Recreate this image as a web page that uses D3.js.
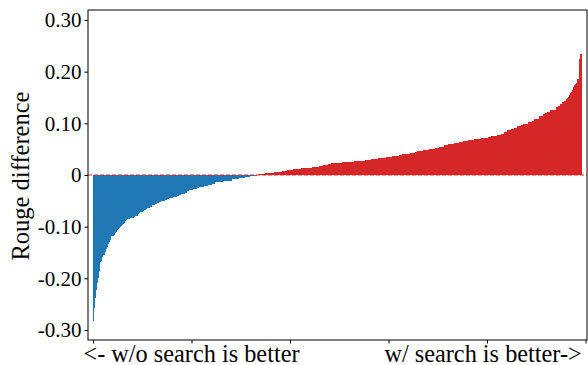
<!DOCTYPE html>
<html>
<head>
<meta charset="utf-8">
<script src="https://cdn.jsdelivr.net/npm/d3@7/dist/d3.min.js"></script>
<style>
html,body{margin:0;padding:0;background:#fff;}
svg{display:block;}
</style>
</head>
<body>
<svg id="chart" width="588" height="365"></svg>
<script>
// Sorted per-sample Rouge differences (w/ search minus w/o search)
const rougeDiff = [
-0.282,-0.258,-0.239,-0.223,-0.210,-0.199,-0.186,-0.169,-0.166,-0.158,
-0.155,-0.154,-0.150,-0.143,-0.139,-0.134,-0.129,-0.126,-0.119,-0.119,
-0.118,-0.116,-0.113,-0.110,-0.106,-0.105,-0.102,-0.100,-0.098,-0.097,
-0.095,-0.092,-0.090,-0.088,-0.086,-0.086,-0.085,-0.084,-0.084,-0.084,-0.083,
-0.081,-0.079,-0.079,-0.079,-0.076,-0.074,-0.074,-0.072,-0.071,-0.071,
-0.070,-0.068,-0.067,-0.065,
-0.063,-0.063,-0.063,-0.061,-0.061,-0.059,-0.059,-0.059,-0.057,-0.057,
-0.054,-0.054,-0.052,-0.052,-0.050,-0.050,-0.050,-0.050,-0.049,-0.049,
-0.047,-0.047,-0.045,-0.045,-0.045,-0.045,-0.043,-0.043,-0.043,-0.043,
-0.041,-0.041,-0.039,-0.039,-0.036,-0.036,-0.036,-0.036,-0.034,-0.034,
-0.031,-0.031,-0.029,-0.029,-0.029,-0.029,-0.027,-0.027,-0.027,-0.027,
-0.026,-0.026,-0.024,-0.024,-0.024,-0.024,-0.024,
-0.021,-0.021,-0.021,-0.021,-0.021,-0.019,-0.019,-0.019,-0.019,
-0.017,-0.017,-0.017,
-0.0135,-0.0135,-0.0135,-0.0135,-0.0135,-0.0135,-0.0135,-0.0135,
-0.0115,-0.0115,-0.0115,-0.0115,-0.0115,-0.0115,-0.0115,-0.0115,-0.0115,
-0.0085,-0.0085,-0.0085,-0.0085,-0.0085,-0.0085,-0.0085,
-0.006,-0.006,-0.006,-0.006,-0.006,-0.006,
-0.004,-0.004,-0.004,-0.004,-0.004,
-0.002,-0.002,-0.002,-0.002,
-0.001,-0.001,-0.001,0,0,0,0.001,0.001,
0.0026,0.0026,0.0026,0.0026,0.0026,
0.0045,0.0045,0.0045,0.0045,0.0045,0.0045,0.0045,0.0045,0.0045,
0.0065,0.0065,0.0065,0.0065,0.0065,0.0065,0.0065,0.0065,
0.0078,0.0078,0.0078,0.0078,0.0078,
0.010,0.010,0.010,0.010,0.010,0.010,
0.012,0.012,0.012,0.012,0.012,0.012,0.012,0.012,
0.0135,0.0135,0.0135,0.0135,0.0135,0.0135,0.0135,0.0135,0.0135,0.0135,0.0135,0.0135,
0.0155,0.0155,0.0155,0.0155,0.0155,0.0155,0.0155,
0.0174,0.0174,0.0174,0.0174,
0.0194,0.0194,0.0194,0.0194,0.0194,
0.021,0.021,0.021,
0.023,0.023,0.023,0.023,0.023,0.023,0.023,0.023,0.023,0.023,0.023,
0.025,0.025,0.025,0.025,0.025,0.025,0.025,0.025,0.025,0.025,0.025,0.025,
0.027,0.027,0.027,0.027,0.027,0.027,0.027,0.027,0.027,0.027,0.027,
0.029,0.029,0.029,0.029,0.029,0.029,
0.031,0.031,0.031,0.031,0.031,0.031,0.031,0.031,
0.033,0.033,0.033,0.033,0.033,0.033,0.033,0.033,
0.035,0.035,0.035,0.035,0.035,0.035,
0.037,0.037,0.037,0.037,0.037,0.037,0.037,
0.039,0.039,0.039,
0.041,0.041,0.041,0.041,0.041,0.041,0.041,0.041,
0.043,0.043,0.043,0.043,0.043,
0.045,0.045,
0.046,0.046,0.046,0.046,0.046,0.046,
0.048,0.048,0.048,0.048,0.048,0.048,
0.050,0.050,0.050,0.050,0.050,0.050,
0.052,0.052,0.052,0.052,
0.054,0.054,0.054,0.054,0.054,0.054,
0.058,0.058,0.058,0.058,
0.060,0.060,0.060,0.060,0.060,0.060,
0.062,0.062,0.062,0.062,0.062,
0.064,0.064,0.064,0.064,
0.066,0.066,0.066,0.066,0.066,
0.068,0.068,0.068,0.068,0.068,0.068,
0.070,0.070,0.070,0.070,0.070,0.070,0.070,
0.072,0.072,0.072,0.072,0.072,0.072,0.072,
0.0735,0.0735,0.0735,
0.0755,0.0755,0.0755,0.0755,0.0755,0.0755,
0.0774,0.0774,0.0774,0.0774,
0.079,0.079,0.079,
0.083,0.083,0.083,0.083,
0.087,0.087,0.087,0.087,
0.089,0.089,0.089,
0.091,0.091,0.091,
0.094,0.094,0.094,0.094,
0.097,0.097,
0.099,0.099,0.099,0.099,0.099,
0.103,0.103,0.103,0.103,
0.105,0.105,
0.109,0.109,0.109,0.109,0.109,
0.114,0.114,0.114,0.114,
0.118,0.118,0.120,0.120,
0.1225,0.1225,0.1225,0.125,0.125,0.125,0.126,0.126,0.126,
0.131,0.131,0.1335,0.1335,0.137,0.137,0.141,0.141,0.1426,0.1426,
0.1465,0.150,0.1516,0.155,0.158,0.161,0.1645,0.168,0.171,0.1735,
0.176,0.1774,0.186,0.186,0.2245,0.234
];
const yTickValues = [-0.3, -0.2, -0.1, 0, 0.1, 0.2, 0.3];
const yTickLabels = ["-0.30", "-0.20", "-0.10", "0", "0.10", "0.20", "0.30"];
const xTickValues = [0, 100, 200, 300, 400, 500];
const xLabels = ["<- w/o search is better", "w/ search is better->"];
const xLabelPositions = [100, 396];
const yTitle = "Rouge difference";

const svg = d3.select("#chart");
const L = 88, R = 587, T = 10, B = 340;
const font = "'Liberation Serif', 'Times New Roman', serif";

const x = d3.scaleLinear().domain([-5.08, 501.5]).range([L, R]);
const y = d3.scaleLinear().domain([-0.3194, 0.3194]).range([B, T]);

// bars: each one overlaps its shorter neighbour so no seams appear
const bars = svg.append("g").attr("shape-rendering", "crispEdges");
const order = rougeDiff.map((d, i) => i);
// draw negatives from right (short) to left? Overlap covered by the taller neighbour drawn later
const negIdx = order.filter(i => rougeDiff[i] < 0).reverse();
const posIdx = order.filter(i => rougeDiff[i] >= 0);
bars.selectAll("rect.neg").data(negIdx).join("rect").attr("class", "neg")
  .attr("x", i => x(i - 0.5))
  .attr("width", i => x(i + 0.5) - x(i - 0.5) + 0.7)
  .attr("y", y(0))
  .attr("height", i => y(rougeDiff[i]) - y(0))
  .attr("fill", "#1f77b4");
bars.selectAll("rect.pos").data(posIdx).join("rect").attr("class", "pos")
  .attr("x", i => x(i - 0.5) - 0.7)
  .attr("width", i => x(i + 0.5) - x(i - 0.5) + 0.7)
  .attr("y", i => y(rougeDiff[i]))
  .attr("height", i => y(0) - y(rougeDiff[i]))
  .attr("fill", "#d62728");

// dashed zero line
svg.append("line")
  .attr("x1", L).attr("x2", R)
  .attr("y1", y(0)).attr("y2", y(0))
  .attr("stroke", "#ff0000").attr("stroke-opacity", 0.55)
  .attr("stroke-width", 1.5).attr("stroke-dasharray", "4,2");

// frame
svg.append("rect").attr("x", L).attr("y", T).attr("width", R - L).attr("height", B - T)
  .attr("fill", "none").attr("stroke", "#000").attr("stroke-width", 1);

// y axis
const yAxis = d3.axisLeft(y).tickValues(yTickValues)
  .tickFormat((d, i) => yTickLabels[i]).tickSize(3.5).tickPadding(3);
const gy = svg.append("g").attr("transform", `translate(${L},0)`).call(yAxis);
gy.select(".domain").remove();
gy.selectAll("text").attr("font-family", font).attr("font-size", 21).attr("fill", "#000");
gy.selectAll("line").attr("stroke", "#000");

// x axis
const xAxis = d3.axisBottom(x).tickValues(xTickValues).tickFormat("").tickSize(3.5);
const gx = svg.append("g").attr("transform", `translate(0,${B})`).call(xAxis);
gx.select(".domain").remove();
gx.selectAll("line").attr("stroke", "#000");

svg.append("g").selectAll("text").data(xLabels).join("text")
  .attr("x", (d, i) => x(xLabelPositions[i]))
  .attr("y", 362)
  .attr("text-anchor", "middle")
  .attr("font-family", font).attr("font-size", 24.3)
  .attr("fill", "#000")
  .text(d => d);

svg.append("text")
  .attr("transform", `translate(28.5,${(T + B) / 2 + 1}) rotate(-90)`)
  .attr("text-anchor", "middle")
  .attr("font-family", font).attr("font-size", 24.5)
  .attr("fill", "#000")
  .text(yTitle);
</script>
</body>
</html>
